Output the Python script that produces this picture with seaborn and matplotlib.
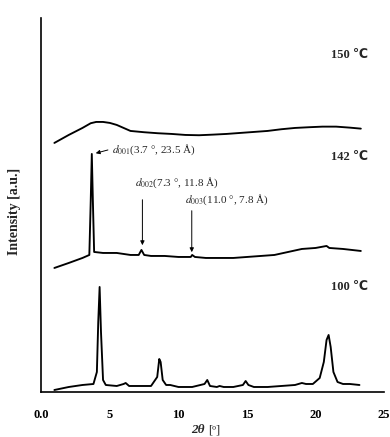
import matplotlib
matplotlib.use("Agg")
import matplotlib.pyplot as plt
import seaborn as sns
import pandas as pd

# ---- data (intensities in arbitrary stacked units) ----
x_100 = [0.95, 2.0, 3.0, 3.8, 4.05, 4.15, 4.25, 4.35, 4.5, 4.7, 5.5, 6.0, 6.15, 6.4, 7.0, 8.0,
         8.45, 8.6, 8.7, 8.85, 9.1, 9.4, 10.0, 11.0, 11.9, 12.1, 12.3, 12.8, 13.0, 13.3, 14.0,
         14.7, 14.9, 15.1, 15.5, 16.5, 17.5, 18.5, 19.0, 19.3, 19.8, 20.3, 20.6, 20.8, 20.95,
         21.1, 21.3, 21.6, 22.0, 22.5, 23.2]
y_100 = [2, 5, 7, 8, 20, 70, 105, 60, 12, 7, 6, 8, 9, 6, 6, 6,
         15, 33, 30, 12, 7, 7, 5, 5, 8, 12, 6, 5, 6, 5, 5,
         7, 11, 7, 5, 5, 6, 7, 9, 8, 8, 14, 30, 52, 57,
         45, 20, 10, 8, 8, 7]

x_142 = [0.95, 2.0, 3.0, 3.5, 3.6, 3.68, 3.76, 3.85, 4.5, 5.5, 6.5, 7.1, 7.3, 7.5, 8.0, 9.0,
         10.0, 10.9, 11.0, 11.2, 12.0, 13.0, 14.0, 15.0, 16.0, 17.0, 18.0, 19.0, 20.0, 20.8,
         21.0, 22.0, 23.3]
y_142 = [124, 129, 134, 137, 190, 238, 190, 140, 139, 139, 137, 137, 142, 137, 136, 136,
         135, 135, 137, 135, 134, 134, 134, 135, 136, 137, 140, 143, 144, 146,
         144, 143, 141]

x_150 = [0.95, 2.0, 3.0, 3.6, 4.0, 4.5, 5.0, 5.5, 6.0, 6.5, 7.5, 8.5, 9.5, 10.5, 11.5, 12.5,
         13.5, 14.5, 15.5, 16.5, 17.5, 18.5, 19.5, 20.5, 21.5, 22.5, 23.3]
y_150 = [249, 257, 264, 268.7, 270, 270, 269, 267, 264, 261, 259.7, 258.7, 258, 257, 256.7,
         257.3, 258, 259, 260, 261, 262.7, 264, 264.7, 265.3, 265.3, 264.3, 263.3]

temps = ["100 ℃", "142 ℃", "150 ℃"]
temp_label_y = [105, 235, 337]

peak_labels = ["$d_{001}$(3.7 °, 23.5 Å)", "$d_{002}$(7.3 °, 11.8 Å)", "$d_{003}$(11.0 °, 7.8 Å)"]

xtick_vals = [0, 5, 10, 15, 20, 25]
xtick_labels = ["0.0", "5", "10", "15", "20", "25"]

# ---- build long table ----
frames = []
for t, xs, ys in zip(temps, [x_100, x_142, x_150], [y_100, y_142, y_150]):
    frames.append(pd.DataFrame({"two_theta": xs, "intensity": ys, "T": t}))
df = pd.concat(frames, ignore_index=True)

sns.set_style("white")
plt.rcParams["font.family"] = ["Liberation Serif", "DejaVu Sans"]
plt.rcParams["mathtext.fontset"] = "stix"

fig = plt.figure(figsize=(3.9, 4.37), dpi=100)
ax = fig.add_axes([0.106, 0.103, 0.879, 0.856])

for t in temps:
    sub = df[df["T"] == t]
    sns.lineplot(data=sub, x="two_theta", y="intensity", ax=ax, color="black",
                 lw=1.35, sort=False, estimator=None, legend=False)

ax.set_xlim(0, 25)
ax.set_ylim(0, 374)
ax.set_yticks([])
ax.set_xticks(xtick_vals)
ax.set_xticklabels(xtick_labels, fontsize=9, fontweight="bold")
ax.tick_params(axis="x", direction="in", length=4, width=0.8, pad=12.5, colors="black")
for s in ["top", "right"]:
    ax.spines[s].set_visible(False)
for s in ["left", "bottom"]:
    ax.spines[s].set_color("black")
    ax.spines[s].set_linewidth(1.2)

ax.set_xlabel("")
ax.set_ylabel("Intensity [a.u.]", fontsize=10, fontweight="bold")
ax.yaxis.set_label_coords(-0.058, 0.484)

# x label: bold italic 2θ plus [º]
fig.text(0.49, 0.016, "2θ", fontsize=9.5, fontweight="bold", fontstyle="italic",
         ha="left", va="center")
fig.text(0.533, 0.016, "[º]", fontsize=9, ha="left", va="center")

# temperature labels
for t, yv in zip(temps, temp_label_y):
    ax.text(23.85, yv, t, fontsize=9, fontweight="bold", ha="right", va="center")

# peak annotations
ax.text(5.15, 242.5, peak_labels[0], fontsize=8, ha="left", va="center")
ax.annotate("", xy=(3.77, 238), xytext=(5.05, 242.7),
            arrowprops=dict(arrowstyle="-|>", lw=0.7, color="black", mutation_scale=6))
ax.text(6.83, 209.3, peak_labels[1], fontsize=8, ha="left", va="center")
ax.annotate("", xy=(7.37, 144), xytext=(7.37, 195),
            arrowprops=dict(arrowstyle="-|>", lw=0.7, color="black", mutation_scale=6))
ax.text(10.48, 192.7, peak_labels[2], fontsize=8, ha="left", va="center")
ax.annotate("", xy=(10.97, 137), xytext=(10.97, 184),
            arrowprops=dict(arrowstyle="-|>", lw=0.7, color="black", mutation_scale=6))

fig.savefig("out.png", dpi=100)
